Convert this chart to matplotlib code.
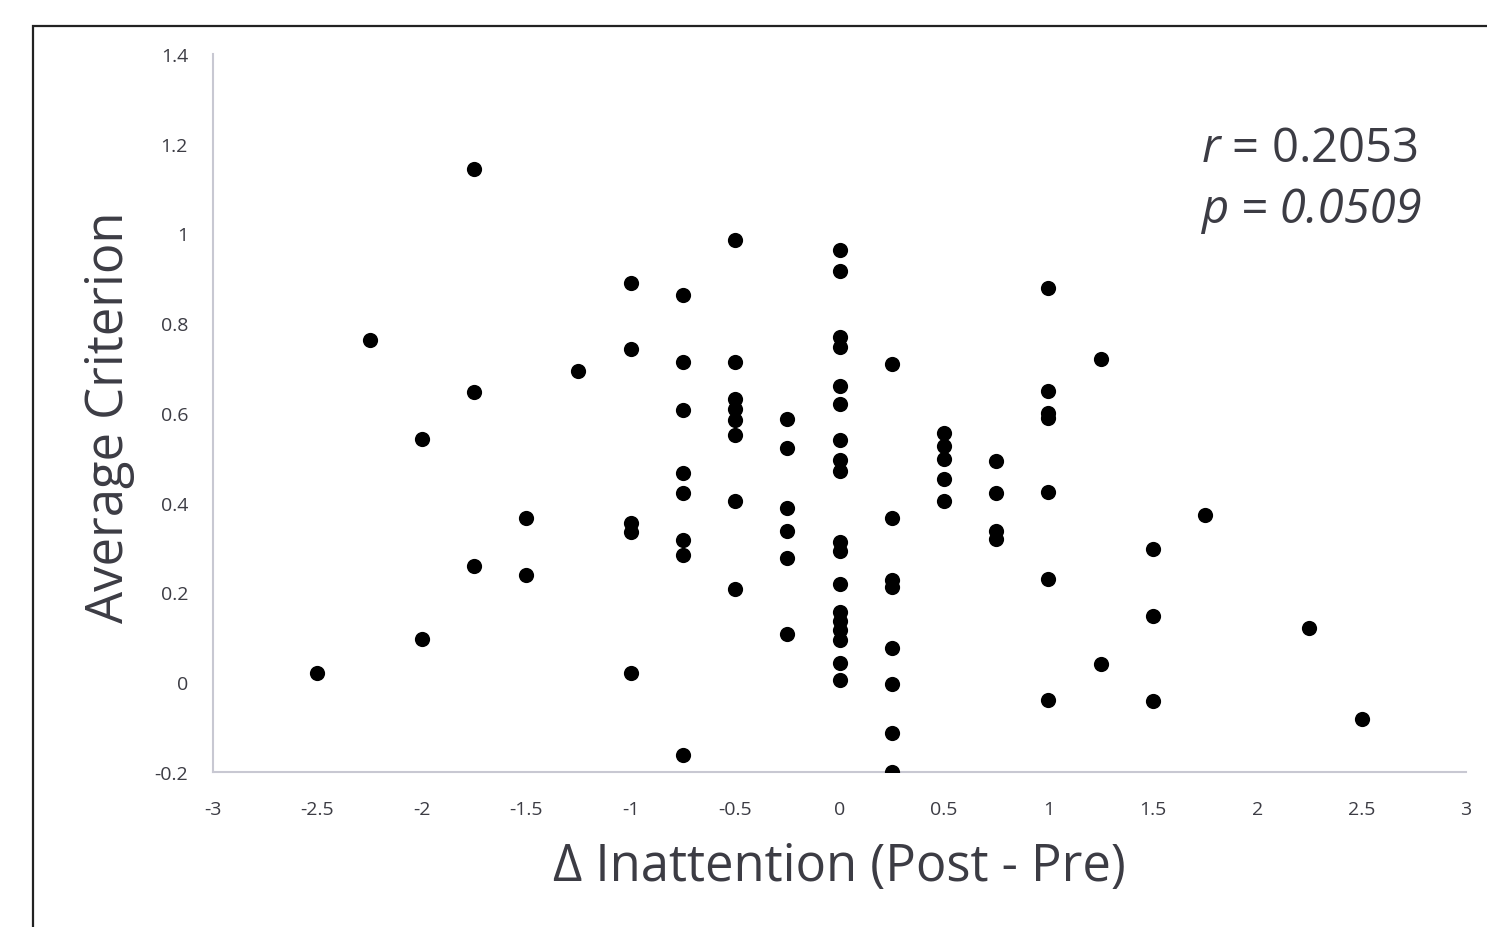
import matplotlib
matplotlib.use("Agg")
import matplotlib.pyplot as plt
from matplotlib.patches import Rectangle

plt.rcParams["font.family"] = ["Open Sans", "DejaVu Sans"]
plt.rcParams["mathtext.fontset"] = "custom"
plt.rcParams["mathtext.it"] = "Open Sans:italic"
plt.rcParams["mathtext.rm"] = "Open Sans"

# change in inattention (x) and average criterion (y), read column by column
x_vals = (
    [-2.5]
    + [-2.25]
    + [-2.0] * 2
    + [-1.75] * 3
    + [-1.5] * 2
    + [-1.25]
    + [-1.0] * 5
    + [-0.75] * 8
    + [-0.5] * 8
    + [-0.25] * 6
    + [0.0] * 18
    + [0.25] * 8
    + [0.5] * 5
    + [0.75] * 4
    + [1.0] * 7
    + [1.25] * 2
    + [1.5] * 3
    + [1.75]
    + [2.25]
    + [2.5]
)
y_vals = (
    [0.020]
    + [0.763]
    + [0.543, 0.097]
    + [1.143, 0.647, 0.260]
    + [0.365, 0.239]
    + [0.694]
    + [0.889, 0.743, 0.355, 0.334, 0.020]
    + [0.862, 0.713, 0.606, 0.467, 0.422, 0.316, 0.283, -0.163]
    + [0.985, 0.714, 0.632, 0.610, 0.584, 0.550, 0.405, 0.207]
    + [0.586, 0.523, 0.388, 0.338, 0.276, 0.107]
    + [0.963, 0.917, 0.770, 0.748, 0.660, 0.619, 0.540, 0.496, 0.470,
       0.313, 0.293, 0.218, 0.156, 0.136, 0.116, 0.094, 0.042, 0.004]
    + [0.710, 0.365, 0.227, 0.213, 0.076, -0.005, -0.112, -0.200]
    + [0.555, 0.527, 0.498, 0.454, 0.403]
    + [0.493, 0.421, 0.336, 0.320]
    + [0.879, 0.650, 0.599, 0.588, 0.424, 0.231, -0.040]
    + [0.720, 0.040]
    + [0.296, 0.147, -0.042]
    + [0.372]
    + [0.120]
    + [-0.082]
)

x_ticks = [-3, -2.5, -2, -1.5, -1, -0.5, 0, 0.5, 1, 1.5, 2, 2.5, 3]
x_labels = ["-3", "-2.5", "-2", "-1.5", "-1", "-0.5", "0", "0.5", "1", "1.5", "2", "2.5", "3"]
y_ticks = [-0.2, 0, 0.2, 0.4, 0.6, 0.8, 1, 1.2, 1.4]
y_labels = ["-0.2", "0", "0.2", "0.4", "0.6", "0.8", "1", "1.2", "1.4"]

txt_col = "#3c3c44"
axis_col = "#c8c8d2"
W, H = 1487, 928

fig = plt.figure(figsize=(14.87, 9.28), dpi=100)
ax = fig.add_axes([213 / W, 1 - 773 / H, 1253 / W, 718 / H])

ax.scatter(x_vals, y_vals, s=120, color="black", zorder=3, linewidths=0)

ax.set_xlim(-3, 3)
ax.set_ylim(-0.2, 1.4)
ax.set_xticks(x_ticks)
ax.set_xticklabels(x_labels)
ax.set_yticks(y_ticks)
ax.set_yticklabels(y_labels)
ax.tick_params(length=0, labelsize=14, colors=txt_col)
ax.tick_params(axis="x", pad=20)
ax.tick_params(axis="y", pad=18)

for side in ["top", "right"]:
    ax.spines[side].set_visible(False)
for side in ["left", "bottom"]:
    ax.spines[side].set_color(axis_col)
    ax.spines[side].set_linewidth(1.5)

# axis titles placed by baseline
fig.text(839.5 / W, 1 - 881 / H, "\u0394 Inattention (Post - Pre)", fontsize=36.5,
         color=txt_col, ha="center", va="baseline")
fig.text(135 / W, 1 - 417 / H, "Average Criterion", fontsize=36.5, color=txt_col,
         rotation=90, ha="right", va="center")

fig.text(1201 / W, 1 - 162 / H, "$r$ = 0.2053", fontsize=34, color=txt_col, va="baseline")
fig.text(1201 / W, 1 - 223 / H, "p = 0.0509", fontsize=34, color=txt_col,
         va="baseline", style="italic")

# frame around the chart area (only left and top edges are visible)
fig.patches.append(Rectangle((33 / W, -0.5), 2.0, 0.5 + 1 - 27 / H,
                             transform=fig.transFigure, fill=False,
                             edgecolor="#222222", linewidth=1.6))

fig.savefig("out.png", dpi=100)
